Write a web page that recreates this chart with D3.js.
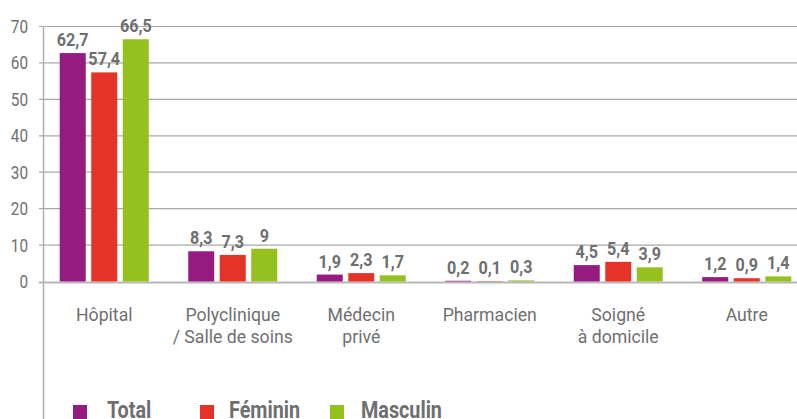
<!DOCTYPE html>
<html><head><meta charset="utf-8">
<script src="https://cdn.jsdelivr.net/npm/d3@7"></script>
<style>
html,body{margin:0;padding:0;background:#fff;}
svg{display:block;font-family:Roboto,"DejaVu Sans Condensed",sans-serif;}
</style></head>
<body>
<svg id="c" width="797" height="419"></svg>
<script>
const categories = [["Hôpital"], ["Polyclinique", "/ Salle de soins"], ["Médecin", "privé"], ["Pharmacien"], ["Soigné", "à domicile"], ["Autre"]];
const seriesNames = ["Total", "Féminin", "Masculin"];
const seriesColors = ["#951b81", "#e5332a", "#95c11f"];
const total    = [62.7, 8.3, 1.9, 0.2, 4.5, 1.2];
const feminin  = [57.4, 7.3, 2.3, 0.1, 5.4, 0.9];
const masculin = [66.5, 9, 1.7, 0.3, 3.9, 1.4];
const yTicks = [0, 10, 20, 30, 40, 50, 60, 70];

const series = [total, feminin, masculin];
const svg = d3.select("#c");
const textColor = "#6f6f6f";
const fmt = v => String(v).replace(".", ",");

const y = d3.scaleLinear().domain([0, 70]).range([281.5, 26.5]);
const x0 = d3.scaleBand().domain(d3.range(categories.length)).range([40, 811])
  .paddingInner(0.307).paddingOuter(0.1535);
const x1 = d3.scaleBand().domain(d3.range(series.length)).range([0, x0.bandwidth()])
  .paddingInner(0.175).paddingOuter(0);

function ctext(x, yy, size, weight, anchor, sx) {
  return svg.append("text").attr("transform", `translate(${x},${yy}) scale(${sx},1)`)
    .attr("text-anchor", anchor).attr("fill", textColor)
    .style("font-size", size + "px").style("font-weight", weight);
}

// gridlines
const grid = svg.append("g");
yTicks.forEach(t => {
  grid.append("line").attr("x1", 39).attr("x2", 797)
    .attr("y1", t === 0 ? y(t) + 1 : y(t)).attr("y2", t === 0 ? y(t) + 1 : y(t))
    .attr("stroke", t === 0 ? "#b8b8b8" : "#a8a8a8")
    .attr("stroke-width", t === 0 ? 2 : 1.2);
});
// y axis line
svg.append("line").attr("x1", 43.5).attr("x2", 43.5).attr("y1", 26).attr("y2", 419)
  .attr("stroke", "#b0b0b0").attr("stroke-width", 1.5);

// tick labels
yTicks.forEach(t => {
  ctext(28, y(t) + 6.5, 18, "normal", "end", 0.85).text(t);
});

// bars
series.forEach((vals, si) => {
  const g = svg.append("g");
  vals.forEach((v, ci) => {
    const bx = x0(ci) + x1(si);
    g.append("rect").attr("x", bx).attr("width", x1.bandwidth())
      .attr("y", y(v)).attr("height", y(0) - y(v)).attr("fill", seriesColors[si]);
    ctext(bx + x1.bandwidth() / 2, y(v) - 7, 19, "bold", "middle", 0.85).text(fmt(v));
  });
});

// category labels
categories.forEach((lines, ci) => {
  const cx = x0(ci) + x0.bandwidth() / 2;
  const t = ctext(cx, 321, 19, "normal", "middle", 0.93);
  lines.forEach((l, i) => t.append("tspan").attr("x", 0).attr("y", i * 22).text(l));
});

// legend
const legX = [73, 200, 330];
const legTX = [107, 229, 361];
seriesNames.forEach((n, i) => {
  svg.append("rect").attr("x", legX[i]).attr("y", 405).attr("width", 14).attr("height", 14)
    .attr("fill", seriesColors[i]);
  ctext(legTX[i], 418, 23, "bold", "start", 0.86).text(n);
});
</script>
</body></html>
